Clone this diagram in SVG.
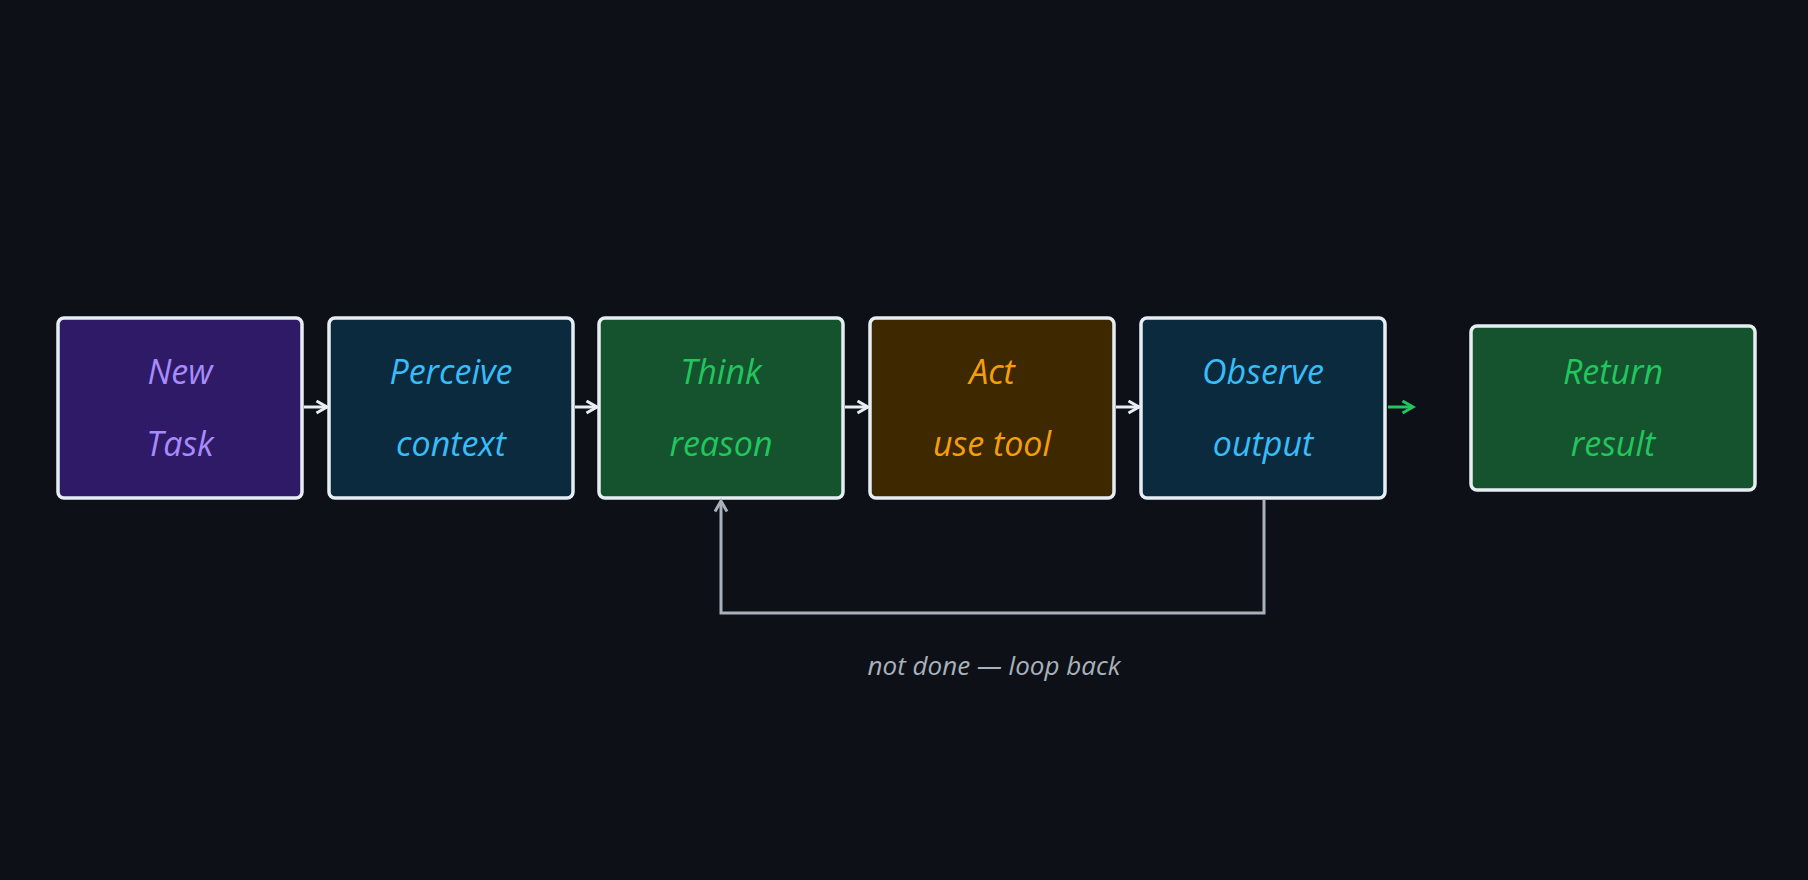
<svg xmlns="http://www.w3.org/2000/svg" width="1808" height="880" viewBox="0 0 1808 880">
<style>
.n{stroke:#e6edf3;stroke-width:3.5}
.t{font-family:"Open Sans",sans-serif;font-style:italic;font-size:34px;text-anchor:middle}
.c{fill:none;stroke-width:3}
</style>
<defs>
<marker id="a" viewBox="0 0 10 10" refX="8" refY="5" markerWidth="5" markerHeight="5" orient="auto"><path d="M1 1L8 5L1 9" fill="none" stroke="#e6edf3" stroke-width="2"/></marker>
<marker id="g" viewBox="0 0 10 10" refX="8" refY="5" markerWidth="5" markerHeight="5" orient="auto"><path d="M1 1L8 5L1 9" fill="none" stroke="#22c55e" stroke-width="2"/></marker>
<marker id="l" viewBox="0 0 10 10" refX="8" refY="5" markerWidth="5" markerHeight="5" orient="auto"><path d="M1 1L8 5L1 9" fill="none" stroke="#a8b1bc" stroke-width="2"/></marker>
</defs>
<rect width="1808" height="880" fill="#0d1117"/>
<g id="new"><rect class="n" x="58" y="318" width="244" height="180" rx="6" fill="#2e1a66"/><text class="t" fill="#a78bfa" x="180" y="384">New</text><text class="t" fill="#a78bfa" x="180" y="456">Task</text></g>
<g id="perceive"><rect class="n" x="329" y="318" width="244" height="180" rx="6" fill="#0c2a3e"/><text class="t" fill="#38bdf8" x="451" y="384">Perceive</text><text class="t" fill="#38bdf8" x="451" y="456">context</text></g>
<g id="think"><rect class="n" x="599" y="318" width="244" height="180" rx="6" fill="#14532d"/><text class="t" fill="#22c55e" x="721" y="384">Think</text><text class="t" fill="#22c55e" x="721" y="456">reason</text></g>
<g id="act"><rect class="n" x="870" y="318" width="244" height="180" rx="6" fill="#3d2800"/><text class="t" fill="#f59e0b" x="992" y="384">Act</text><text class="t" fill="#f59e0b" x="992" y="456">use tool</text></g>
<g id="observe"><rect class="n" x="1141" y="318" width="244" height="180" rx="6" fill="#0c2a3e"/><text class="t" fill="#38bdf8" x="1263" y="384">Observe</text><text class="t" fill="#38bdf8" x="1263" y="456">output</text></g>
<g id="return"><rect class="n" x="1471" y="326" width="284" height="164" rx="6" fill="#14532d"/><text class="t" fill="#22c55e" x="1613" y="384">Return</text><text class="t" fill="#22c55e" x="1613" y="456">result</text></g>
<g id="connectors">
<path class="c" stroke="#e6edf3" d="M304 407H327" marker-end="url(#a)"/>
<path class="c" stroke="#e6edf3" d="M575 407H597" marker-end="url(#a)"/>
<path class="c" stroke="#e6edf3" d="M845 407H868" marker-end="url(#a)"/>
<path class="c" stroke="#e6edf3" d="M1116 407H1139" marker-end="url(#a)"/>
<path class="c" stroke="#22c55e" d="M1388 407H1413" marker-end="url(#g)"/>
<path class="c" stroke="#a8b1bc" d="M1264 500V613H721V501" marker-end="url(#l)"/>
<text x="994" y="675" font-family="Open Sans,sans-serif" font-style="italic" font-size="26" fill="#a8b1bc" text-anchor="middle">not done — loop back</text>
</g>
</svg>
